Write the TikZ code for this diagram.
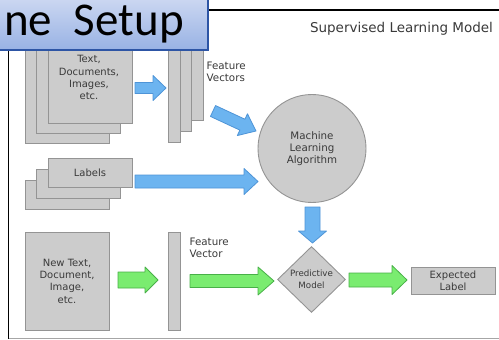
\documentclass[tikz,border=0pt]{standalone}
\usepackage{fontspec}
\setmainfont{DejaVu Sans}
\newfontfamily\titlefont{Carlito}
\usetikzlibrary{calc,shapes.geometric}

\definecolor{pagefill}{RGB}{204,204,204}
\definecolor{pageedge}{RGB}{148,148,148}
\definecolor{bluefill}{RGB}{108,180,240}
\definecolor{blueedge}{RGB}{78,148,215}
\definecolor{greenfill}{RGB}{122,236,112}
\definecolor{greenedge}{RGB}{72,176,72}
\definecolor{inktext}{RGB}{58,58,58}
\definecolor{titletop}{RGB}{206,217,242}
\definecolor{titlebot}{RGB}{152,178,228}
\definecolor{titleedge}{RGB}{45,85,165}

% block arrow between two named points:
% #1 style, #2 tail, #3 tip, #4 half shaft width, #5 head length, #6 half head width
\newcommand\blockarrow[6]{%
  \coordinate (hb) at ($(#3)!#5!(#2)$);
  \draw[#1] ($(#2)!#4!90:(#3)$) -- ($(hb)!#4!90:(#3)$) -- ($(hb)!#6!90:(#3)$) -- (#3)
    -- ($(hb)!#6!-90:(#3)$) -- ($(hb)!#4!-90:(#3)$) -- ($(#2)!#4!-90:(#3)$) -- cycle;}

\begin{document}
\begin{tikzpicture}[x=1pt,y=-1pt,
  sheet/.style={draw=pageedge, fill=pagefill, line width=0.9pt, inner sep=0pt,
    minimum width=84pt, text=inktext, font=\fontsize{10}{12.3}\selectfont, align=center},
  bar/.style={draw=pageedge, fill=pagefill, line width=0.9pt, inner sep=0pt,
    minimum width=11.5pt, minimum height=98pt},
  caption/.style={inner sep=0pt, text=inktext, font=\fontsize{10.3}{11.8}\selectfont},
  bluearrow/.style={draw=blueedge, fill=bluefill, line width=0.8pt, line join=round},
  greenarrow/.style={draw=greenedge, fill=greenfill, line width=0.8pt, line join=round},
]
\clip (0,0) rectangle (499,340);
\fill[white] (0,0) rectangle (499,340);

% frame of the figure
\draw[black, line width=1.6pt] (520,10) -- (8.5,10) -- (8.5,339);
\draw[gray!70, line width=0.8pt] (8.5,338.6) -- (499,338.6);

\node[inner sep=0pt, text=inktext, font=\fontsize{13.5}{15}\selectfont] (heading) at (401.5,28.5) {Supervised Learning Model};

% training documents
\node[sheet, minimum height=98pt] (docback) at (67,94) {};
\node[sheet, minimum height=98pt] (docmid) at (78.5,84) {};
\node[sheet, minimum height=98pt] (docfront) at (90,74) {};
\node[sheet, draw=none, fill=none] (doctext) at (89,77.8) {Text,\\Documents,\\Images,\\etc.};

% feature vectors
\node[bar] (fva) at (174.25,93) {};
\node[bar] (fvb) at (185.75,82) {};
\node[bar] (fvc) at (197.25,71) {};
\node[caption, anchor=west, align=left] (fvtext) at (206.5,71.5) {Feature\\Vectors};

% labels
\node[sheet, minimum height=29pt] (labback) at (67,194.5) {};
\node[sheet, minimum height=29pt] (labmid) at (78.5,183.5) {};
\node[sheet, minimum height=29pt] (labfront) at (90,172.5) {Labels};

% learning algorithm
\node[circle, draw=pageedge, fill=pagefill, line width=0.9pt, minimum size=108pt, inner sep=0pt,
  text=inktext, font=\fontsize{10.3}{12}\selectfont, align=center] (mla) at (312,148.5) {Machine\\Learning\\Algorithm};

% new sample
\node[sheet, minimum height=98pt] (newdoc) at (67,281) {New Text,\\Document,\\Image,\\etc.};
\node[bar] (fvnew) at (174.25,281) {};
\node[caption, anchor=west, align=left] (fvnewtext) at (189.5,248) {Feature\\Vector};

\node[diamond, aspect=1, draw=pageedge, fill=pagefill, line width=0.9pt, inner sep=0pt,
  minimum width=68pt, minimum height=66pt, text=inktext,
  font=\fontsize{8.7}{11.5}\selectfont, align=center] (pm) at (311.5,279.5) {Predictive\\Model};

\node[sheet, minimum height=27pt] (expected) at (453,280.5) {Expected\\Label};

% arrow end points
\coordinate (b1s) at (135,88);    \coordinate (b1e) at (166,88);
\coordinate (b2s) at (213,111);   \coordinate (b2e) at (256,131);
\coordinate (b3s) at (135,181.5); \coordinate (b3e) at (258,181.5);
\coordinate (b4s) at (312.5,207); \coordinate (b4e) at (312.5,243);
\coordinate (g1s) at (118,280);   \coordinate (g1e) at (158,280);
\coordinate (g2s) at (190,281);   \coordinate (g2e) at (274,281);
\coordinate (g3s) at (349,280);   \coordinate (g3e) at (407,280);

\blockarrow{bluearrow}{b1s}{b1e}{5.5pt}{13pt}{12.5pt}
\blockarrow{bluearrow}{b2s}{b2e}{6pt}{15pt}{12pt}
\blockarrow{bluearrow}{b3s}{b3e}{6.5pt}{14pt}{13pt}
\blockarrow{bluearrow}{b4s}{b4e}{7.5pt}{12pt}{14pt}
\blockarrow{greenarrow}{g1s}{g1e}{8pt}{13pt}{13pt}
\blockarrow{greenarrow}{g2s}{g2e}{6.5pt}{16pt}{14pt}
\blockarrow{greenarrow}{g3s}{g3e}{7pt}{15pt}{14.5pt}

% slide title
\node[draw=titleedge, line width=1.5pt, top color=titletop, bottom color=titlebot,
  minimum width=212pt, minimum height=54pt, inner sep=0pt] (titlebox) at (102,23) {};
\node[inner sep=0pt, anchor=base east, font=\titlefont\fontsize{47}{50}\selectfont] (titletext) at (184,35) {ne\hspace{11pt} Setup};
\end{tikzpicture}
\end{document}
